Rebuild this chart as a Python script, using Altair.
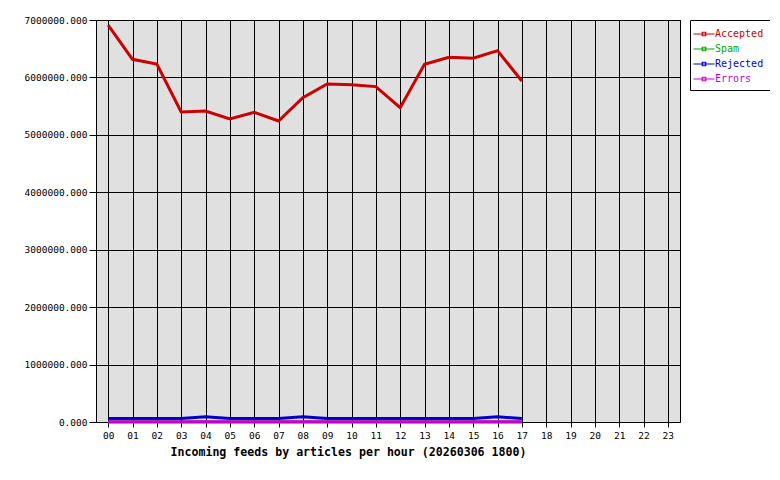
import altair as alt
import pandas as pd

hours = list(range(18))
hour_labels = [f"{h:02d}" for h in range(24)]
series = ["Accepted", "Spam", "Rejected", "Errors"]
colors = ["#cc0000", "#00aa00", "#0000cc", "#cc00cc"]

accepted = [6910000, 6315000, 6234000, 5398000, 5415000, 5276000, 5393000, 5241000, 5647000,
            5885000, 5873000, 5840000, 5473000, 6228000, 6350000, 6333000, 6466000, 5938000]
spam = [0] * 18
rejected = [60000, 60000, 60000, 60000, 90000, 60000, 60000, 60000, 90000,
            60000, 60000, 60000, 60000, 60000, 60000, 60000, 90000, 60000]
errors = [5000] * 18

rows = []
for name, vals in zip(series, [accepted, spam, rejected, errors]):
    for h, v in zip(hours, vals):
        rows.append({"hour": h, "series": name, "value": v, "order": series.index(name)})
df = pd.DataFrame(rows)

font = "DejaVu Sans Mono"
label_color_expr = (
    "datum.value == 'Accepted' ? '#cc0000' : datum.value == 'Spam' ? '#00aa00' : "
    "datum.value == 'Rejected' ? '#0000cc' : '#cc00cc'"
)

chart = alt.Chart(df).mark_line(strokeWidth=3, clip=False).encode(
    x=alt.X("hour:Q",
            scale=alt.Scale(domain=[-0.5, 23.5], nice=False, zero=False),
            axis=alt.Axis(values=list(range(24)),
                          labelExpr="datum.value < 10 ? '0' + datum.value : '' + datum.value",
                          title="Incoming feeds by articles per hour (20260306 1800)",
                          titleFont=font, titleFontSize=11.6, titleFontWeight="bold",
                          titleAnchor="start", titleAlign="left", titleX=74, titleY=33,
                          titleBaseline="alphabetic",
                          labelFont=font, labelFontSize=9.5, labelColor="black",
                          labelPadding=3, tickSize=5, tickColor="black",
                          grid=True, gridColor="black", gridOpacity=1, domain=False)),
    y=alt.Y("value:Q",
            scale=alt.Scale(domain=[0, 7000000], nice=False),
            axis=alt.Axis(values=[0, 1000000, 2000000, 3000000, 4000000, 5000000, 6000000, 7000000],
                          format=".3f", title=None,
                          labelFont=font, labelFontSize=9.5, labelColor="black",
                          labelPadding=2, tickSize=7, tickColor="black",
                          grid=True, gridColor="black", gridOpacity=1, domain=False)),
    color=alt.Color("series:N",
                    scale=alt.Scale(domain=series, range=colors),
                    sort=series,
                    legend=alt.Legend(title=None, orient="right", offset=10,
                                      labelFont=font, labelFontSize=10,
                                      labelColor=alt.ExprRef(label_color_expr),
                                      symbolType="M-1.5,0L1.5,0M-0.25,-0.25L0.25,-0.25L0.25,0.25L-0.25,0.25Z",
                                      symbolSize=196, symbolStrokeWidth=1.2,
                                      rowPadding=2, padding=6,
                                      strokeColor="black", fillColor="white",
                                      labelOffset=3)),
    order=alt.Order("order:Q"),
    detail="series:N",
).properties(
    width=584, height=402,
    autosize=alt.AutoSizeParams(type="none"),
    padding={"left": 88, "top": 12, "right": 90, "bottom": 40},
).configure_view(
    fill="#e0e0e0", stroke="black", strokeWidth=1
)

chart.save("out.html", embed_options={"renderer": "svg", "actions": False})
